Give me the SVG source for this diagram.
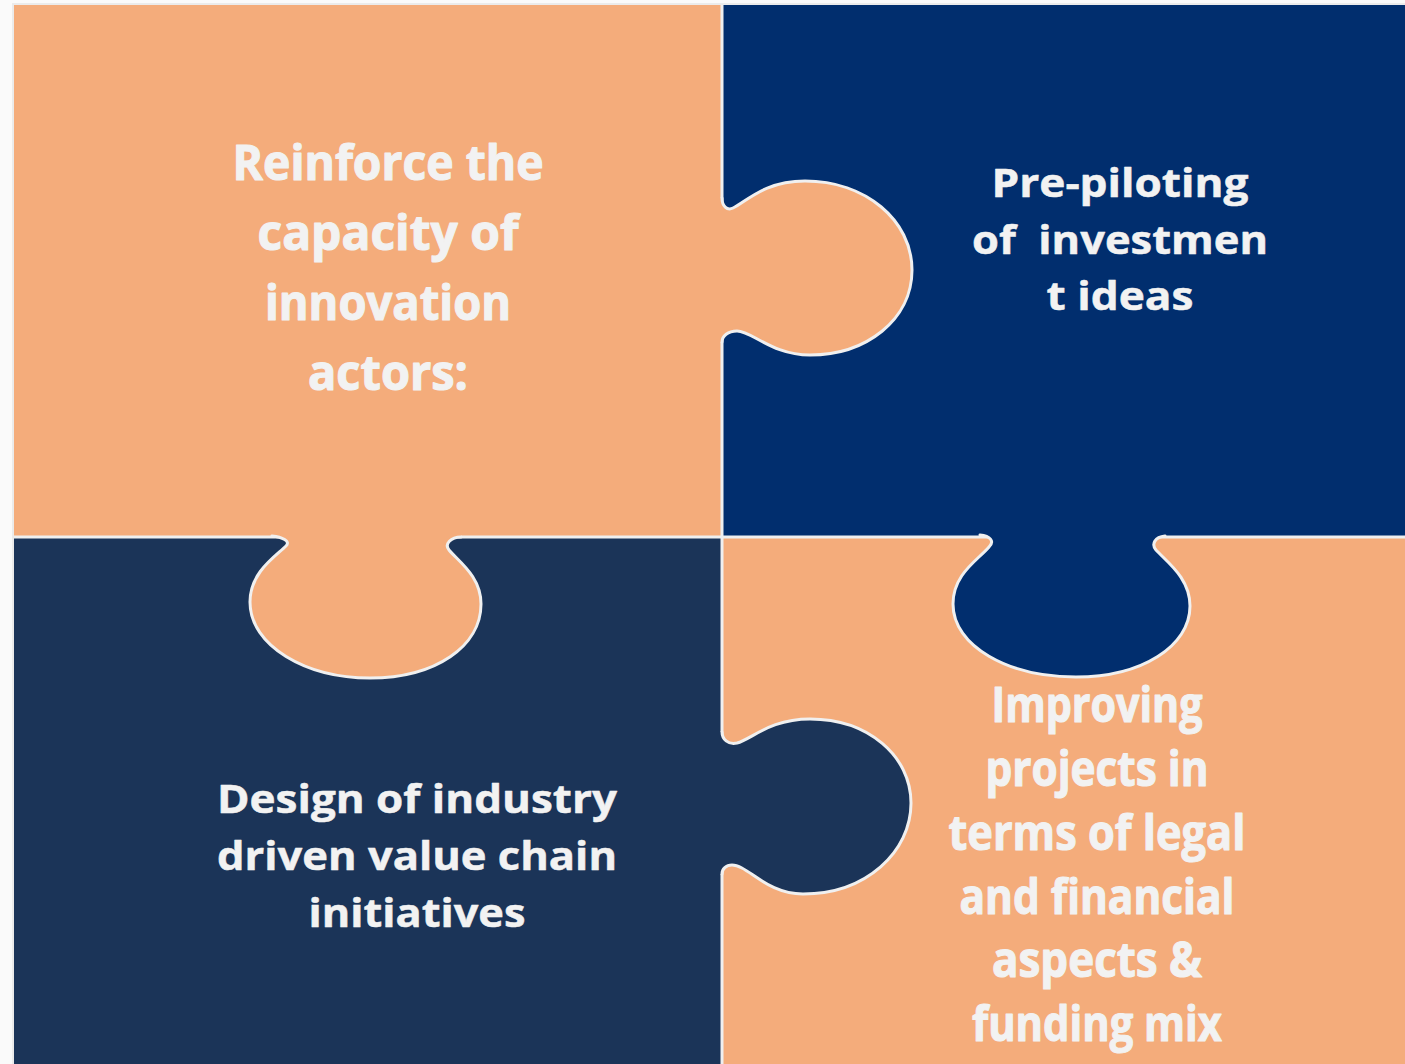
<svg xmlns="http://www.w3.org/2000/svg" width="1405" height="1064" viewBox="0 0 1405 1064">
<defs>
<style>
.peach{fill:#F4AC7B}
.navy{fill:#012E6E}
.dark{fill:#1B3458}
.seam{stroke:#EFEFEF;stroke-width:3;fill:none}
.edge{stroke:#F0F0F0;stroke-width:3;fill:none;stroke-linecap:round}
.lbl{font-family:"Open Sans","DejaVu Sans",sans-serif;font-weight:700;fill:#F2F2F2;stroke:#F2F2F2;stroke-width:0.5;stroke-linejoin:round;text-anchor:middle}
.heavy{stroke-width:1.1}
</style>
</defs>
<rect x="0" y="0" width="1405" height="1064" fill="#FAFAFA"/>
<rect x="12" y="3" width="1393" height="1061" fill="#EBEBEB"/>

<g id="piece-top-left">
<rect class="peach" x="14" y="5" width="708" height="532"/>
</g>
<g id="piece-top-right">
<rect class="navy" x="722" y="5" width="683" height="532"/>
</g>
<g id="piece-bottom-left">
<rect class="dark" x="14" y="537" width="708" height="527"/>
</g>
<g id="piece-bottom-right">
<rect class="peach" x="722" y="537" width="683" height="527"/>
</g>

<g id="connectors">
<line class="seam" x1="722" y1="5" x2="722" y2="1064"/>
<line class="seam" x1="14" y1="537" x2="1405" y2="537"/>

<!-- tab: top-left into top-right -->
<path class="peach" d="M722,198 C722,206 727,211 733,208 C746,202 764,181 805,181 C865,181 912,220 912,270 C912,320 866,355 810,355 C772,355 752,331 737,331 C728,331 722,336 722,342 L716,342 L716,198 Z"/>
<path class="edge" d="M722,198 C722,206 727,211 733,208 C746,202 764,181 805,181 C865,181 912,220 912,270 C912,320 866,355 810,355 C772,355 752,331 737,331 C728,331 722,336 722,342"/>

<!-- tab: top-left into bottom-left -->
<path class="peach" d="M272,536 C282,537 291,541 286,546 C276,556 250,572 250,602 C250,646 306,678 370,678 C436,678 481,646 481,604 C481,576 458,561 449,550 C444,544 451,537 461,537 L461,531 L272,531 Z"/>
<path class="edge" d="M272,536 C282,537 291,541 286,546 C276,556 250,572 250,602 C250,646 306,678 370,678 C436,678 481,646 481,604 C481,576 458,561 449,550 C444,544 451,537 461,537"/>

<!-- tab: top-right into bottom-right -->
<path class="navy" d="M980,535 C990,536 995,541 989,547 C978,560 953,574 953,604 C953,646 1008,677 1076,677 C1142,677 1190,646 1190,606 C1190,578 1167,562 1156,550 C1151,544 1155,537 1165,536 L1165,530 L980,530 Z"/>
<path class="edge" d="M980,535 C990,536 995,541 989,547 C978,560 953,574 953,604 C953,646 1008,677 1076,677 C1142,677 1190,646 1190,606 C1190,578 1167,562 1156,550 C1151,544 1155,537 1165,536"/>

<!-- tab: bottom-left into bottom-right -->
<path class="dark" d="M722,732 C722,739 728,745 737,743 C752,739 770,719 810,719 C868,719 911,756 911,803 C911,852 866,894 803,894 C766,894 748,865 732,865 C726,865 722,869 722,874 L716,874 L716,732 Z"/>
<path class="edge" d="M722,732 C722,739 728,745 737,743 C752,739 770,719 810,719 C868,719 911,756 911,803 C911,852 866,894 803,894 C766,894 748,865 732,865 C726,865 722,869 722,874"/>
</g>

<g id="text-top-left" class="lbl heavy" font-size="48">
<text x="388" y="180" textLength="311" lengthAdjust="spacingAndGlyphs">Reinforce the</text>
<text x="388" y="250" textLength="261" lengthAdjust="spacingAndGlyphs">capacity of</text>
<text x="388" y="320" textLength="246" lengthAdjust="spacingAndGlyphs">innovation</text>
<text x="388" y="390" textLength="160" lengthAdjust="spacingAndGlyphs">actors:</text>
</g>
<g id="text-top-right" class="lbl" font-size="40">
<text x="1120" y="197" textLength="257" lengthAdjust="spacingAndGlyphs">Pre-piloting</text>
<text x="1120" y="254" textLength="296" lengthAdjust="spacingAndGlyphs" xml:space="preserve">of  investmen</text>
<text x="1120" y="310" textLength="147" lengthAdjust="spacingAndGlyphs">t ideas</text>
</g>
<g id="text-bottom-left" class="lbl" font-size="40">
<text x="417" y="813" textLength="400" lengthAdjust="spacingAndGlyphs">Design of industry</text>
<text x="417" y="870" textLength="400" lengthAdjust="spacingAndGlyphs">driven value chain</text>
<text x="417" y="927" textLength="217" lengthAdjust="spacingAndGlyphs">initiatives</text>
</g>
<g id="text-bottom-right" class="lbl heavy" font-size="48">
<text x="1097" y="722" textLength="211" lengthAdjust="spacingAndGlyphs">Improving</text>
<text x="1097" y="786" textLength="223" lengthAdjust="spacingAndGlyphs">projects in</text>
<text x="1097" y="850" textLength="297" lengthAdjust="spacingAndGlyphs">terms of legal</text>
<text x="1097" y="914" textLength="275" lengthAdjust="spacingAndGlyphs">and financial</text>
<text x="1097" y="977" textLength="210" lengthAdjust="spacingAndGlyphs">aspects &amp;</text>
<text x="1097" y="1041" textLength="250" lengthAdjust="spacingAndGlyphs">funding mix</text>
</g>
</svg>
